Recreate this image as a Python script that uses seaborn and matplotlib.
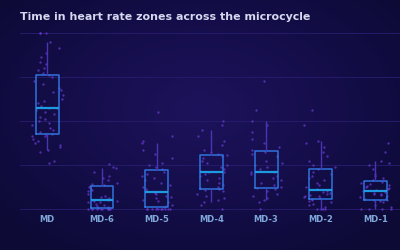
import numpy as np
import pandas as pd
import matplotlib
matplotlib.use("Agg")
import matplotlib.pyplot as plt
from matplotlib.colors import LinearSegmentedColormap
import seaborn as sns

days = ["MD", "MD-6", "MD-5", "MD-4", "MD-3", "MD-2", "MD-1"]

md = [21, 22, 26, 27, 28, 29, 30, 31, 32, 33, 33, 34, 34, 35, 36, 37, 38, 39, 40, 41,
      42, 43, 44, 45, 46, 46, 47, 48, 49, 50, 52, 53, 54, 55, 57, 58, 60, 61, 62, 63,
      64, 66, 67, 69, 71, 73, 76, 80, 80, 80]
md6 = [0, 0, 0, 0, 0, 0, 0, 0, 0, 0, 0.5, 1, 1.5, 2, 2.5, 3, 3, 3.5, 3.5, 4,
       4, 4.5, 5, 5.5, 6, 7, 8, 8.5, 9, 10, 10.5, 11, 11.5, 12, 13, 14, 15, 17,
       18.5, 19, 20.5]
md5 = [0, 0, 0, 0, 0, 0, 0, 0, 0, 0, 1, 1.5, 2, 3, 3.5, 4, 5, 5.5, 6, 7,
       7.5, 8, 9, 10, 11, 12, 13, 14, 15, 16, 17, 18, 19, 20, 21, 23, 25, 27, 30, 31,
       33, 44]
md4 = [0, 2, 3, 4, 5, 6, 7, 8, 8.5, 9, 9.5, 10, 11, 12, 13, 14, 15, 16, 17, 17,
       17.5, 18, 19, 20, 21, 22, 23, 24, 24.5, 25, 26, 27, 29, 31, 33, 36, 38, 40]
md3 = [0, 3, 4, 5, 6, 7, 8, 9, 9.5, 10, 11, 12, 13, 14, 15, 16, 17, 17, 18, 19,
       20, 21, 22, 24, 25, 26, 27, 28, 30, 32, 35, 38, 40, 45, 58]
md2 = [0, 0, 0, 0, 1, 2, 2.5, 3, 3.5, 4, 4.5, 5, 5.5, 6, 6, 6.5, 7, 7.5, 7.7, 8,
       9, 10, 11, 12, 13, 14, 15, 16, 17, 18, 19, 20, 22, 24, 26, 28, 30, 31, 38, 45]
md1 = [0, 0, 0, 0, 1, 2, 3, 3.5, 4, 4, 4.5, 5, 5.5, 6, 6.5, 7, 7, 7.5, 7.7, 8,
       8.5, 9, 9.5, 10, 10.5, 11, 11.5, 12, 12.5, 13, 14, 15, 16, 18, 20, 21, 22, 26, 30]

series = [md, md6, md5, md4, md3, md2, md1]
df = pd.DataFrame({
    "day": np.concatenate([[d] * len(v) for d, v in zip(days, series)]),
    "minutes": np.concatenate([np.asarray(v, float) for v in series]),
})

np.random.seed(3)
sns.set_theme(style="dark")

fig = plt.figure(figsize=(4, 2.5), dpi=100)

# radial gradient background
bg = fig.add_axes([0, 0, 1, 1], zorder=-10)
yy, xx = np.mgrid[0:250, 0:400]
r = np.sqrt(((xx - 200) / 260.0) ** 2 + ((yy - 110) / 170.0) ** 2)
cmap_bg = LinearSegmentedColormap.from_list("bg", ["#1d135c", "#150e4b", "#0d0a36"])
bg.imshow(np.clip(r, 0, 1), cmap=cmap_bg, aspect="auto", extent=[0, 1, 0, 1], origin="upper")
bg.axis("off")
fig.patch.set_facecolor("#0f0b3c")

ax = fig.add_axes([0.05, 0.155, 0.95, 0.722])
ax.set_facecolor("none")

sns.stripplot(data=df, x="day", y="minutes", order=days, ax=ax, jitter=0.3,
              size=1.7, color="#6a3cd6", alpha=0.7, linewidth=0, zorder=2)
sns.boxplot(data=df, x="day", y="minutes", order=days, ax=ax, whis=(5, 95),
            showfliers=False, fill=False, width=0.42, linewidth=1.1,
            color="#2f72d8",
            boxprops=dict(color="#2f72dc", linewidth=1.1),
            medianprops=dict(color="#1e9be0", linewidth=1.6),
            whiskerprops=dict(color="#4a34b4", linewidth=1.0),
            capprops=dict(linewidth=0),
            zorder=3)

ax.set_ylim(-1, 81)
ax.set_xlim(-0.5, 6.45)
ax.set_yticks([0, 20, 40, 60, 80])
ax.set_yticklabels([])
ax.grid(axis="y", color="#251b6a", linewidth=0.7)
ax.grid(axis="x", visible=False)
ax.set_axisbelow(True)
for s in ax.spines.values():
    s.set_visible(False)
ax.set_xlabel("")
ax.set_ylabel("")
ax.tick_params(axis="both", length=0)
ax.tick_params(axis="x", pad=3)
for lab in ax.get_xticklabels():
    lab.set_color("#7fa6d8")
    lab.set_fontsize(6)
    lab.set_fontweight("bold")

fig.text(0.05, 0.932, "Time in heart rate zones across the microcycle",
         color="#d5d8ef", fontsize=7.9, fontweight="bold", va="center", ha="left")

fig.savefig("out.png", dpi=100, facecolor=fig.get_facecolor())
